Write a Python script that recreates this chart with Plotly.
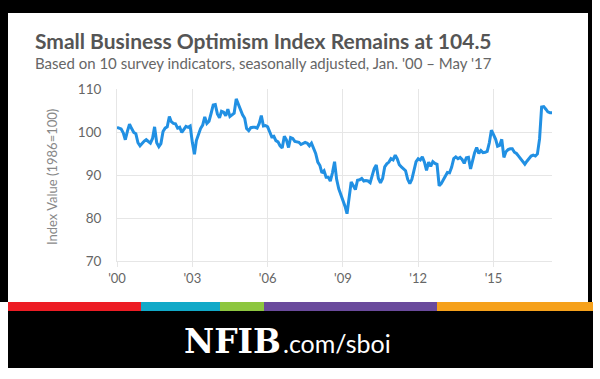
import pandas as pd
import plotly.graph_objects as go

# ---- data (NFIB Small Business Optimism Index, monthly, 1986=100) ----
v2000 = [101.1, 100.9, 100.7, 99.8, 98.2, 100.2, 101.8, 100.8, 99.9, 99.6, 97.5, 96.8]
v2001 = [97.4, 97.9, 98.2, 97.8, 97.4, 98.5, 101.2, 97.5, 96.6, 97.3, 100.1, 100.9]
v2002 = [101.2, 103.6, 102.4, 102.0, 101.9, 100.9, 101.1, 99.9, 100.6, 101.3, 101.1, 101.4]
v2003 = [97.6, 94.8, 98.0, 99.7, 100.8, 101.6, 103.5, 102.0, 102.5, 104.3, 106.3, 106.4]
v2004 = [104.2, 103.3, 104.8, 104.6, 103.8, 105.3, 103.6, 104.0, 104.4, 107.7, 106.3, 105.0]
v2005 = [104.0, 103.2, 100.8, 100.3, 101.0, 101.1, 101.1, 100.9, 102.0, 103.8, 101.4, 101.5]
v2006 = [101.2, 100.0, 98.9, 99.0, 98.0, 97.7, 96.8, 96.3, 99.0, 98.2, 96.4, 98.7]
v2007 = [98.5, 97.8, 97.7, 97.6, 97.1, 97.4, 97.6, 97.4, 96.8, 97.4, 96.0, 95.0]
v2008 = [93.0, 92.2, 90.5, 91.0, 89.5, 89.5, 88.6, 90.5, 93.1, 89.0, 86.8, 85.5]
v2009 = [84.1, 82.7, 81.0, 85.0, 88.4, 87.5, 86.6, 88.8, 88.9, 89.2, 88.6, 88.7]
v2010 = [88.6, 88.2, 89.6, 91.5, 92.3, 89.2, 88.2, 89.2, 91.9, 92.6, 93.0, 93.8]
v2011 = [93.5, 94.6, 93.8, 92.4, 91.9, 91.4, 91.0, 89.0, 88.0, 89.0, 91.1, 93.1]
v2012 = [93.8, 93.5, 94.2, 93.0, 91.1, 93.0, 92.0, 93.1, 92.7, 92.5, 87.5, 88.0]
v2013 = [88.9, 89.8, 90.6, 90.5, 91.8, 93.8, 94.2, 93.8, 94.1, 93.6, 92.7, 94.0]
v2014 = [94.1, 91.4, 93.4, 95.2, 96.4, 95.0, 95.7, 95.2, 95.3, 95.5, 97.5, 100.4]
v2015 = [99.4, 98.3, 96.7, 96.9, 98.3, 94.1, 95.4, 95.9, 96.1, 96.1, 95.3, 95.0]
v2016 = [94.4, 93.8, 93.2, 92.5, 93.2, 93.7, 94.4, 94.6, 94.4, 94.9, 98.4, 105.8]
v2017 = [105.9, 105.3, 104.7, 104.5, 104.5]

tick_years = ["2000", "2003", "2006", "2009", "2012", "2015"]
tick_labels = ["'00", "'03", "'06", "'09", "'12", "'15"]
y_ticks = [70, 80, 90, 100, 110]

values = (v2000 + v2001 + v2002 + v2003 + v2004 + v2005 + v2006 + v2007 + v2008
          + v2009 + v2010 + v2011 + v2012 + v2013 + v2014 + v2015 + v2016 + v2017)
dates = pd.date_range("2000-01-01", periods=len(values), freq="MS")

# ---- layout geometry (pixels) ----
W, H = 600, 379
L, R, T, B = 117, 48, 89, 118
PW, PH = W - L - R, H - T - B


def px(x):
    return (x - L) / PW


def py(y):
    return (H - B - y) / PH


GRID = "#e6e6e6"

fig = go.Figure()
fig.add_trace(go.Scatter(
    x=dates, y=values, mode="lines",
    line=dict(color="#2190e3", width=3),
    hoverinfo="skip", showlegend=False,
))

shapes = []


def rect(x0, y0, x1, y1, color):
    shapes.append(dict(type="rect", xref="paper", yref="paper",
                       x0=px(x0), x1=px(x1), y0=py(y1), y1=py(y0),
                       fillcolor=color, line=dict(width=0), layer="below"))


# outer black frame + white card
rect(0, 0, 592, 302, "#000000")
rect(8, 13, 588, 302, "#ffffff")
# colour stripe
rect(8, 302, 141, 311, "#ed1c24")
rect(141, 302, 220, 311, "#11a9c8")
rect(220, 302, 264, 311, "#8dc63f")
rect(264, 302, 437, 311, "#6a4a9c")
rect(437, 302, 593, 311, "#f6a11b")
# footer
rect(8, 311, 593, 368, "#000000")

annotations = [
    dict(text="Small Business Optimism Index Remains at 104.5",
         xref="paper", yref="paper", x=px(33), y=py(40.5),
         xanchor="left", yanchor="middle", showarrow=False,
         font=dict(family="Lato", size=21, color="#555555", weight="bold")),
    dict(text="Based on 10 survey indicators, seasonally adjusted, Jan. '00 – May '17",
         xref="paper", yref="paper", x=px(33), y=py(63.5),
         xanchor="left", yanchor="middle", showarrow=False,
         font=dict(family="Lato", size=15, color="#666666")),
    dict(text="Index Value (1986=100)",
         xref="paper", yref="paper", x=px(52), y=py(177),
         xanchor="center", yanchor="middle", textangle=-90, showarrow=False,
         font=dict(family="Lato", size=13, color="#888888")),
    dict(text="NFIB",
         xref="paper", yref="paper", x=px(283), y=py(341),
         xanchor="right", yanchor="middle", showarrow=False,
         font=dict(family="DejaVu Serif", size=33, color="#ffffff", weight="bold")),
    dict(text=".com/sboi",
         xref="paper", yref="paper", x=px(281), y=py(343),
         xanchor="left", yanchor="middle", showarrow=False,
         font=dict(family="Lato", size=25, color="#ffffff")),
]

fig.update_layout(
    width=W, height=H,
    margin=dict(l=L, r=R, t=T, b=B, pad=0),
    paper_bgcolor="#ffffff",
    plot_bgcolor="rgba(0,0,0,0)",
    shapes=shapes,
    annotations=annotations,
    showlegend=False,
    xaxis=dict(
        type="date",
        range=[dates[0], dates[-1]],
        tickvals=[pd.Timestamp(y + "-01-01") for y in tick_years],
        ticktext=tick_labels,
        showgrid=True, gridcolor=GRID, gridwidth=1,
        showline=True, linecolor=GRID, linewidth=1,
        ticks="outside", ticklen=5, tickcolor=GRID,
        tickfont=dict(family="Lato", size=13, color="#666666"),
        zeroline=False, fixedrange=True,
    ),
    yaxis=dict(
        range=[70, 110],
        tickvals=y_ticks,
        showgrid=True, gridcolor=GRID, gridwidth=1,
        showline=True, linecolor=GRID, linewidth=1,
        ticks="", ticklabelstandoff=12,
        tickfont=dict(family="Lato", size=13.5, color="#666666"),
        zeroline=False, fixedrange=True,
    ),
)

fig.write_html("out.html", config={"displayModeBar": False},
               post_script="document.body.style.margin='0';document.body.style.overflow='hidden';")
